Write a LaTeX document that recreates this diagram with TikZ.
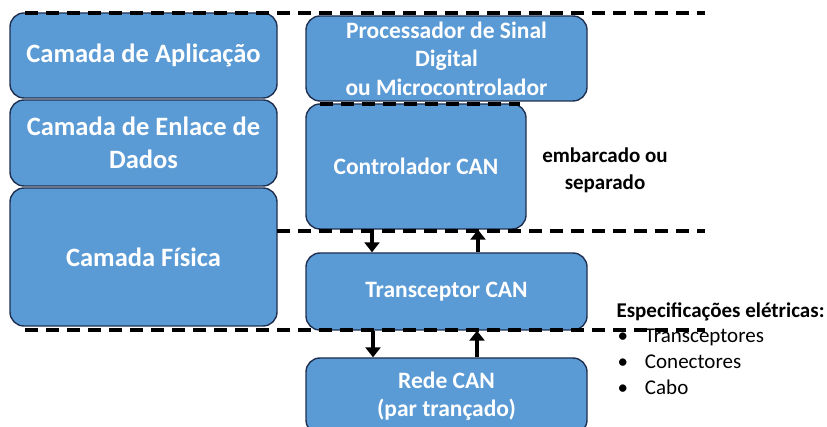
\documentclass[tikz,border=0pt]{standalone}
\usepackage{fontspec}
\setmainfont{Carlito}
\usetikzlibrary{arrows.meta}
\definecolor{layerblue}{HTML}{5B9BD5}
\definecolor{layeredge}{HTML}{1F3050}
\tikzset{
  layer/.style={draw=layeredge, line width=1.4pt, fill=layerblue, rounded corners=14pt,
    text=white, font=\bfseries, align=center, inner sep=0pt},
  bigtext/.style={font=\fontsize{26.5}{33}\selectfont\bfseries},
  smalltext/.style={font=\fontsize{23.5}{28.5}\selectfont\bfseries},
  sep/.style={line width=3.1pt, dash pattern=on 13pt off 8pt},
  flow/.style={line width=4.4pt, -{Triangle[width=15pt,length=10pt]}},
  note/.style={font=\fontsize{21}{27}\selectfont\bfseries, align=center},
  item/.style={font=\fontsize{21}{25}\selectfont, anchor=west}
}
\begin{document}
\begin{tikzpicture}[x=1pt, y=-1pt]
\useasboundingbox (0,0) rectangle (827,427);
\clip (0,0) rectangle (827,427);

% protocol layers (left column)
\node[layer, bigtext, minimum width=267pt, minimum height=85pt] (app) at (143.5,55.5) {Camada de Aplicação};
\node[layer, bigtext, minimum width=267pt, minimum height=86pt] (dll) at (143.5,143) {Camada de Enlace de\\Dados};
\node[layer, bigtext, minimum width=267pt, minimum height=138pt] (phy) at (143.5,257) {Camada Física};

% hardware blocks (right column)
\node[layer, smalltext, minimum width=281pt, minimum height=85pt] (dsp) at (446.5,58.5) {Processador de Sinal\\Digital\\ou Microcontrolador};
\node[layer, smalltext, minimum width=220pt, minimum height=125pt] (ctrl) at (416,166.5) {Controlador CAN};
\node[layer, smalltext, minimum width=281pt, minimum height=77pt] (trx) at (446.5,291.5) {Transceptor CAN};
\node[layer, smalltext, minimum width=281pt, minimum height=76pt] (bus) at (446.5,396) {\fontsize{23.5}{30}\selectfont Rede CAN\\(par trançado)};

% layer boundaries
\coordinate (t1) at (25,13);  \coordinate (t2) at (705,13);
\coordinate (m1) at (320,104); \coordinate (m2) at (520,104);
\coordinate (c1) at (277,231); \coordinate (c2) at (705,231);
\coordinate (b1) at (25,330);  \coordinate (b2) at (705,330);
\draw[sep] (t1) -- (t2);
\draw[sep] (m1) -- (m2);
\draw[sep] (c1) -- (c2);
\draw[sep] (b1) -- (b2);

% data flow between blocks
\draw[flow] (ctrl.south -| 372,0) -- (trx.north -| 372,0);
\draw[flow] (trx.north -| 478,0) -- (ctrl.south -| 478,0);
\draw[flow] (trx.south -| 373,0) -- (bus.north -| 373,0);
\draw[flow] (bus.north -| 477,0) -- (trx.south -| 477,0);

% annotations
\node[note] (emb) at (605,170) {embarcado ou\\separado};
\node[font=\fontsize{21}{25}\selectfont\bfseries, anchor=west] (spec) at (613,312) {Especificações elétricas:};
\node[item] (i1) at (614,337) {•\hspace{17pt}Transceptores};
\node[item] (i2) at (614,362) {•\hspace{17pt}Conectores};
\node[item] (i3) at (614,387) {•\hspace{17pt}Cabo};
\end{tikzpicture}
\end{document}
